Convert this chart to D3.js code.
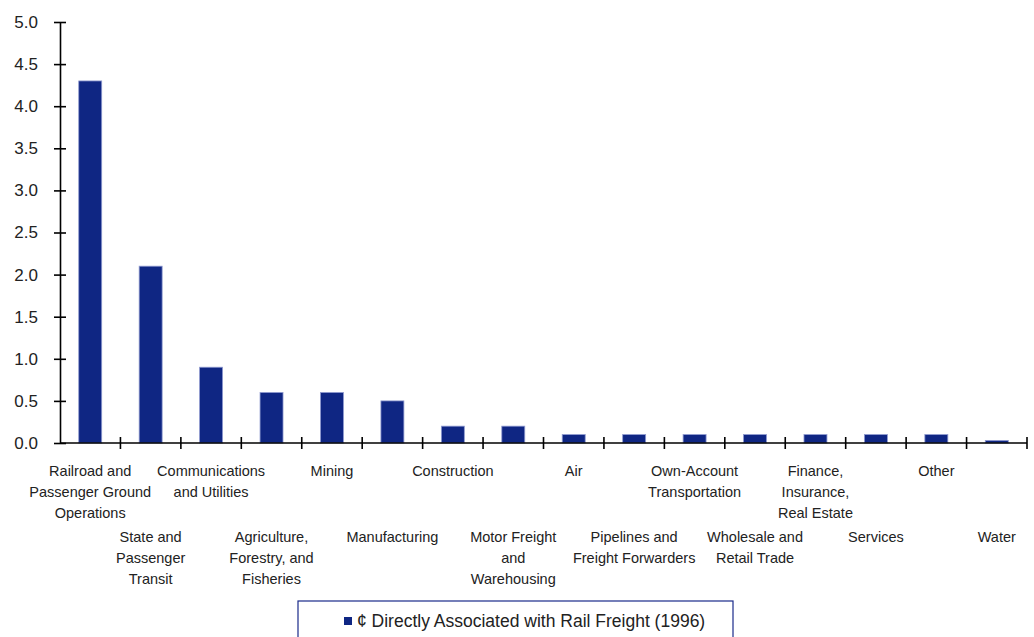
<!DOCTYPE html>
<html>
<head>
<meta charset="utf-8">
<script src="https://cdn.jsdelivr.net/npm/d3@7"></script>
<style>
  body { margin: 0; background: #fff; }
  text { font-family: "Liberation Sans", Arial, sans-serif; }
</style>
</head>
<body>
<div id="chart"></div>
<script>
// categories, each label split into its lines
const categories = [
  ["Railroad and", "Passenger Ground", "Operations"],
  ["State and", "Passenger", "Transit"],
  ["Communications", "and Utilities"],
  ["Agriculture,", "Forestry, and", "Fisheries"],
  ["Mining"],
  ["Manufacturing"],
  ["Construction"],
  ["Motor Freight", "and", "Warehousing"],
  ["Air"],
  ["Pipelines and", "Freight Forwarders"],
  ["Own-Account", "Transportation"],
  ["Wholesale and", "Retail Trade"],
  ["Finance,", "Insurance,", "Real Estate"],
  ["Services"],
  ["Other"],
  ["Water"]
];
const values = [4.3, 2.1, 0.9, 0.6, 0.6, 0.5, 0.2, 0.2, 0.1, 0.1, 0.1, 0.1, 0.1, 0.1, 0.1, 0.03];
const yTicks = [0, 0.5, 1, 1.5, 2, 2.5, 3, 3.5, 4, 4.5, 5];
const legendLabel = "¢ Directly Associated with Rail Freight (1996)";

const width = 1034, height = 637;
const barColor = "#0f2683";

const svg = d3.select("#chart").append("svg")
  .attr("width", width)
  .attr("height", height);

const x = d3.scaleBand()
  .domain(d3.range(categories.length))
  .range([60, 1027])
  .paddingInner(0.62)
  .paddingOuter(0.31);

const y = d3.scaleLinear()
  .domain([0, 5])
  .range([443, 22]);

// bars
svg.append("g")
  .selectAll("rect")
  .data(values)
  .enter().append("rect")
    .attr("x", (d, i) => x(i))
    .attr("y", d => y(d))
    .attr("width", x.bandwidth())
    .attr("height", d => y(0) - y(d))
    .style("fill", barColor)
    .style("stroke", "#8f9ad0")
    .style("stroke-width", 0.8);

// y axis
const yAxis = svg.append("g")
  .attr("transform", "translate(60,0)")
  .call(d3.axisLeft(y).tickValues(yTicks).tickFormat(d3.format(".1f")).tickSize(0).tickPadding(22));
yAxis.select(".domain").attr("stroke", "#000").attr("stroke-width", 1.6);
yAxis.selectAll("text").style("font-size", "17px").attr("fill", "#222");
yAxis.selectAll(".tick").append("line")
  .attr("x1", -6).attr("x2", 6)
  .attr("stroke", "#000").attr("stroke-width", 1.6);

// x axis line and category ticks
const step = x.step();
const xg = svg.append("g");
xg.append("line")
  .attr("x1", 60).attr("x2", 1027)
  .attr("y1", y(0)).attr("y2", y(0))
  .attr("stroke", "#000").attr("stroke-width", 1.6);
xg.selectAll(".xt")
  .data(d3.range(1, categories.length + 1))
  .enter().append("line")
    .attr("class", "xt")
    .attr("x1", i => 60 + i * step).attr("x2", i => 60 + i * step)
    .attr("y1", y(0) - 6).attr("y2", y(0) + 6)
    .attr("stroke", "#000").attr("stroke-width", 1.6);

// category labels, staggered on two rows
const labels = svg.append("g")
  .selectAll("text")
  .data(categories)
  .enter().append("text")
    .attr("x", (d, i) => x(i) + x.bandwidth() / 2)
    .attr("y", (d, i) => i % 2 === 0 ? 476 : 542)
    .attr("text-anchor", "middle")
    .style("font-size", "14.5px")
    .attr("fill", "#222");
labels.selectAll("tspan")
  .data(d => d)
  .enter().append("tspan")
    .attr("x", function() { return this.parentNode.getAttribute("x"); })
    .attr("dy", (d, j) => j === 0 ? 0 : 21)
    .text(d => d);

// legend
const legend = svg.append("g");
legend.append("rect")
  .attr("x", 298).attr("y", 601)
  .attr("width", 435).attr("height", 50)
  .attr("fill", "#fff")
  .attr("stroke", "#1a2a8a").attr("stroke-width", 1.2);
legend.append("rect")
  .attr("x", 344).attr("y", 617)
  .attr("width", 8).attr("height", 8)
  .attr("fill", barColor);
legend.append("text")
  .attr("x", 357).attr("y", 627)
  .style("font-size", "17.5px")
  .attr("fill", "#222")
  .text(legendLabel);
</script>
</body>
</html>
